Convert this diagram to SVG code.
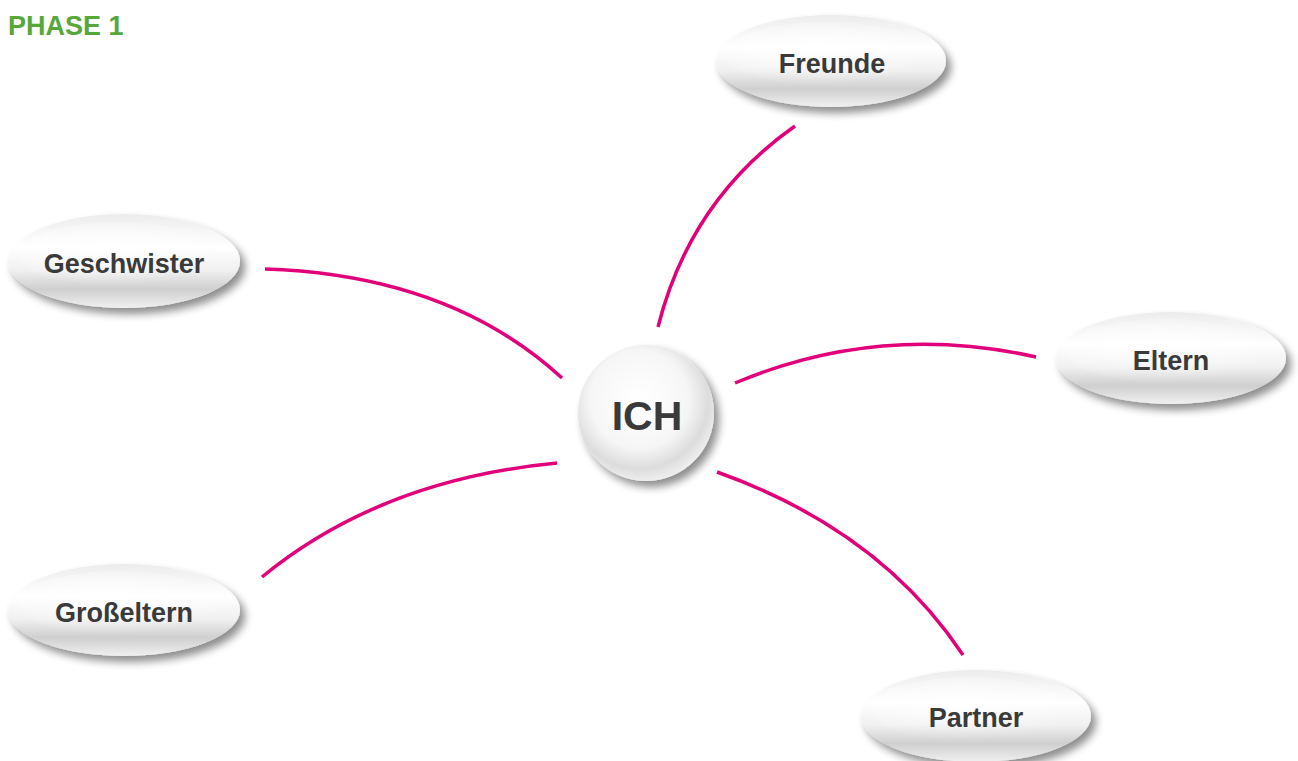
<svg xmlns="http://www.w3.org/2000/svg" width="1298" height="761" viewBox="0 0 1298 761">
<defs>
<linearGradient id="eg" x1="0" y1="0" x2="0" y2="1">
<stop offset="0" stop-color="#ececec"/>
<stop offset="0.35" stop-color="#ffffff"/>
<stop offset="0.6" stop-color="#f0f0f0"/>
<stop offset="0.8" stop-color="#cfcfcf"/>
<stop offset="1" stop-color="#f0f0f0"/>
</linearGradient>
<radialGradient id="eh" cx="0.45" cy="0.4" r="0.6">
<stop offset="0" stop-color="#ffffff" stop-opacity="0.9"/>
<stop offset="0.6" stop-color="#ffffff" stop-opacity="0.3"/>
<stop offset="1" stop-color="#ffffff" stop-opacity="0"/>
</radialGradient>
<radialGradient id="cg" cx="0.45" cy="0.4" r="0.6">
<stop offset="0" stop-color="#ffffff"/>
<stop offset="0.6" stop-color="#f6f6f6"/>
<stop offset="0.85" stop-color="#dcdcdc"/>
<stop offset="1" stop-color="#eeeeee"/>
</radialGradient>
<filter id="sh" x="-20%" y="-30%" width="150%" height="170%">
<feGaussianBlur in="SourceAlpha" stdDeviation="4"/>
<feOffset dx="5" dy="6" result="b"/>
<feComponentTransfer><feFuncA type="linear" slope="0.45"/></feComponentTransfer>
<feMerge><feMergeNode/><feMergeNode in="SourceGraphic"/></feMerge>
</filter>
</defs>
<style>
.con{fill:none;stroke:#e2007a;stroke-width:3.5;stroke-linecap:butt}
.lbl{font-family:"Liberation Sans",Arial,sans-serif;font-weight:bold;font-size:27px;fill:#3a3a3a;text-anchor:middle}
.ich{font-family:"Liberation Sans",Arial,sans-serif;font-weight:bold;font-size:41px;fill:#3a3a3a;text-anchor:middle}
.el{fill:url(#eg);filter:url(#sh)}
.hl{fill:url(#eh)}
</style>
<rect width="1298" height="761" fill="#ffffff"/>
<text x="8" y="35" font-family="Liberation Sans, Arial, sans-serif" font-weight="bold" font-size="27" fill="#56a83a">PHASE 1</text>
<g id="connectors">
<path class="con" d="M795,126 Q690,200 658,327"/>
<path class="con" d="M265,269 Q450,275 562,378"/>
<path class="con" d="M735,383 Q880,322 1036,357"/>
<path class="con" d="M262,577 Q380,480 557,463"/>
<path class="con" d="M717,472 Q880,530 963,655"/>
</g>
<g id="ich">
<circle cx="646" cy="413" r="68" fill="url(#cg)" filter="url(#sh)"/>
<text class="ich" x="647" y="430">ICH</text>
</g>
<g id="freunde">
<ellipse class="el" cx="831" cy="61" rx="115" ry="46"/>
<ellipse class="hl" cx="825" cy="54" rx="100" ry="32"/>
<text class="lbl" x="832" y="73">Freunde</text>
</g>
<g id="geschwister">
<ellipse class="el" cx="124" cy="261" rx="116" ry="47"/>
<ellipse class="hl" cx="118" cy="254" rx="100" ry="32"/>
<text class="lbl" x="124" y="273">Geschwister</text>
</g>
<g id="eltern">
<ellipse class="el" cx="1171" cy="358" rx="115" ry="46"/>
<ellipse class="hl" cx="1165" cy="351" rx="100" ry="32"/>
<text class="lbl" x="1171" y="370">Eltern</text>
</g>
<g id="grosseltern">
<ellipse class="el" cx="124" cy="610" rx="116" ry="46"/>
<ellipse class="hl" cx="118" cy="603" rx="100" ry="32"/>
<text class="lbl" x="124" y="622">Großeltern</text>
</g>
<g id="partner">
<ellipse class="el" cx="976" cy="716" rx="115" ry="46"/>
<ellipse class="hl" cx="970" cy="709" rx="100" ry="32"/>
<text class="lbl" x="976" y="727">Partner</text>
</g>
</svg>
